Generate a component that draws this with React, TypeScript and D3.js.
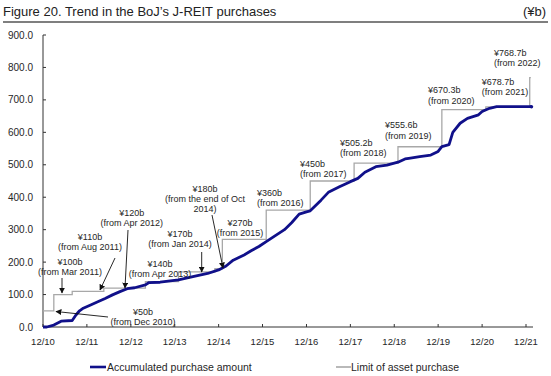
import React from "react";
import * as d3 from "d3";

// Accumulated purchase amount (¥b)
const purchaseDates = [
  "2010-12-01","2011-01-01","2011-03-01","2011-05-01","2011-08-01","2011-09-01","2011-10-01","2011-11-01",
  "2012-01-01","2012-03-01","2012-05-01","2012-07-01","2012-09-01","2012-11-01","2013-01-01","2013-04-01",
  "2013-05-01","2013-08-01","2014-01-01","2014-05-01","2014-09-01","2014-12-01","2015-02-01","2015-04-01",
  "2015-07-01","2015-09-01","2015-11-01","2016-01-01","2016-03-01","2016-06-01","2016-08-01","2016-10-01",
  "2016-12-01","2017-01-01","2017-04-01","2017-06-01","2017-09-01","2017-12-01","2018-02-01","2018-04-01",
  "2018-07-01","2018-10-01","2019-01-01","2019-03-01","2019-04-01","2019-07-01","2019-10-01","2019-12-01",
  "2020-01-01","2020-03-01","2020-04-01","2020-06-01","2020-08-01","2020-11-01","2020-12-01","2021-02-01",
  "2021-04-01","2022-01-15"
];
const purchaseValues = [
  0, 0, 6, 18, 20, 37, 50, 58,
  68, 78, 88, 99, 109, 118, 121, 130,
  137, 138, 145, 155, 165, 176, 188, 206,
  222, 236, 248, 263, 278, 300, 322, 348,
  355, 358, 391, 415, 432, 448, 458, 477,
  494, 499, 508, 518, 520, 525, 530, 541,
  556, 562, 600, 628, 643, 654, 664, 674,
  679, 679
];

// Limit of asset purchase (¥b)
const limitDates = [
  "2010-12-01","2011-03-01","2011-08-01","2012-04-20","2013-04-01","2014-01-01","2014-10-31",
  "2015-01-01","2016-01-01","2017-01-01","2018-01-01","2019-01-01","2020-01-01","2021-01-01",
  "2022-01-01","2022-01-10"
];
const limitValues = [
  50, 100, 110, 120, 140, 170, 180, 270, 360, 450, 505.2, 555.6, 670.3, 678.7, 768.7, 768.7
];

const xTickDates = ["2010-12-01","2011-12-01","2012-12-01","2013-12-01","2014-12-01","2015-12-01",
  "2016-12-01","2017-12-01","2018-12-01","2019-12-01","2020-12-01","2021-12-01"];
const xTickLabels = ["12/10","12/11","12/12","12/13","12/14","12/15","12/16","12/17","12/18","12/19","12/20","12/21"];
const yTicks = [0, 100, 200, 300, 400, 500, 600, 700, 800, 900];

const titleText = "Figure 20. Trend in the BoJ’s J-REIT purchases";
const unitText = "(¥b)";
const seriesNames = ["Accumulated purchase amount", "Limit of asset purchase"];

// Annotation labels (layout kept separately)
const annotations = [
  { lines: ["¥50b", "(from Dec 2010)"], x: 143, y: 311.7, anchor: "middle", arrow: [108, 317, 56, 311.5] },
  { lines: ["¥100b", "(from Mar 2011)"], x: 70, y: 261.7, anchor: "middle", arrow: [62, 278, 62, 293] },
  { lines: ["¥110b", "(from Aug 2011)"], x: 90, y: 236.7, anchor: "middle", arrow: [115, 258, 100, 290] },
  { lines: ["¥120b", "(from Apr 2012)"], x: 131.7, y: 212.7, anchor: "middle", arrow: [128, 230, 125, 288] },
  { lines: ["¥140b", "(from Apr 2013)"], x: 160, y: 263.3, anchor: "middle", arrow: null },
  { lines: ["¥170b", "(from Jan 2014)"], x: 180, y: 233.3, anchor: "middle", arrow: [201.7, 252, 201.7, 272] },
  { lines: ["¥180b", "(from the end of Oct", "2014)"], x: 205, y: 188.3, anchor: "middle", arrow: [212, 215, 223, 268] },
  { lines: ["¥270b", "(from 2015)"], x: 240, y: 222.3, anchor: "middle", arrow: null },
  { lines: ["¥360b", "(from 2016)"], x: 257, y: 192.3, anchor: "start", arrow: null },
  { lines: ["¥450b", "(from 2017)"], x: 300, y: 163.3, anchor: "start", arrow: null },
  { lines: ["¥505.2b", "(from 2018)"], x: 340, y: 142.3, anchor: "start", arrow: null },
  { lines: ["¥555.6b", "(from 2019)"], x: 385, y: 125, anchor: "start", arrow: null },
  { lines: ["¥670.3b", "(from 2020)"], x: 428, y: 90, anchor: "start", arrow: null },
  { lines: ["¥678.7b", "(from 2021)"], x: 481.7, y: 81.7, anchor: "start", arrow: null },
  { lines: ["¥768.7b", "(from 2022)"], x: 494, y: 52.7, anchor: "start", arrow: null },
];

const W = 551, H = 376;
const FONT = "'Liberation Sans', Arial, Helvetica, sans-serif";
const BLUE = "#10108a";
const GRAY = "#a8a8a8";
const TEXT = "#262626";

export default function App() {
  const parse = (s: string) => new Date(s + "T00:00:00");
  const x = d3.scaleTime()
    .domain([parse("2010-12-01"), parse("2021-12-01")])
    .range([43, 526]);
  const y = d3.scaleLinear().domain([0, 900]).range([327, 35]);

  const purchase = purchaseDates.map((d, i) => ({ d: parse(d), v: purchaseValues[i] }));
  const limit = limitDates.map((d, i) => ({ d: parse(d), v: limitValues[i] }));

  const lineP = d3.line<{ d: Date; v: number }>().x(p => x(p.d)).y(p => y(p.v)).curve(d3.curveLinear);
  const lineL = d3.line<{ d: Date; v: number }>().x(p => x(p.d)).y(p => y(p.v)).curve(d3.curveStepAfter);

  return (
    <svg width={W} height={H} style={{ position: "absolute", left: 0, top: 0, background: "#fff" }}
      fontFamily={FONT}>
      <defs>
        <marker id="arr" viewBox="0 0 10 10" refX="9" refY="5" markerWidth="6" markerHeight="6"
          orient="auto-start-reverse" markerUnits="userSpaceOnUse">
          <path d="M0,0 L10,5 L0,10 z" fill="#111" />
        </marker>
      </defs>
      {/* Title */}
      <text x={3} y={16} fontSize={13} fill="#222">{titleText}</text>
      <text x={546} y={16} fontSize={13} fill="#222" textAnchor="end">{unitText}</text>
      <line x1={3} x2={548} y1={22} y2={22} stroke="#555" strokeWidth={1.5} />

      {/* Y axis */}
      <line x1={43} x2={43} y1={35} y2={327} stroke="#333" strokeWidth={1} />
      {yTicks.map(t => (
        <g key={t}>
          <line x1={43} x2={46} y1={y(t)} y2={y(t)} stroke="#333" />
          <text x={33} y={y(t) + 3.5} fontSize={10} textAnchor="end" fill={TEXT}>{t.toFixed(1)}</text>
        </g>
      ))}
      {/* X axis */}
      <line x1={43} x2={533} y1={327} y2={327} stroke="#333" strokeWidth={1} />
      {xTickDates.map((d, i) => (
        <g key={d}>
          <line x1={x(parse(d))} x2={x(parse(d))} y1={327} y2={324} stroke="#333" />
          <text x={x(parse(d))} y={344.5} fontSize={9.5} textAnchor="middle" fill={TEXT}>{xTickLabels[i]}</text>
        </g>
      ))}

      {/* Limit line */}
      <path d={lineL(limit) || ""} fill="none" stroke={GRAY} strokeWidth={1.3} />
      {/* Purchase line */}
      <path d={lineP(purchase) || ""} fill="none" stroke={BLUE} strokeWidth={2.8} strokeLinejoin="round" />
      <circle cx={x(purchase[purchase.length - 1].d)} cy={y(purchase[purchase.length - 1].v)} r={1.8} fill={BLUE} />

      {/* Annotations */}
      {annotations.map((a, i) => (
        <g key={i}>
          {a.lines.map((l, j) => (
            <text key={j} x={a.x} y={a.y + j * 10.3 + 3.2} fontSize={9} textAnchor={a.anchor as any} fill={TEXT}>{l}</text>
          ))}
          {a.arrow && (
            <line x1={a.arrow[0]} y1={a.arrow[1]} x2={a.arrow[2]} y2={a.arrow[3]} stroke="#111" strokeWidth={0.9}
              markerEnd="url(#arr)" />
          )}
        </g>
      ))}

      {/* Legend */}
      <line x1={90} x2={106} y1={367} y2={367} stroke={BLUE} strokeWidth={2.6} />
      <text x={107} y={370.5} fontSize={10.5} fill={TEXT}>{seriesNames[0]}</text>
      <line x1={336} x2={351} y1={367} y2={367} stroke={GRAY} strokeWidth={1.6} />
      <text x={351} y={370.5} fontSize={10.5} fill={TEXT}>{seriesNames[1]}</text>
    </svg>
  );
}
